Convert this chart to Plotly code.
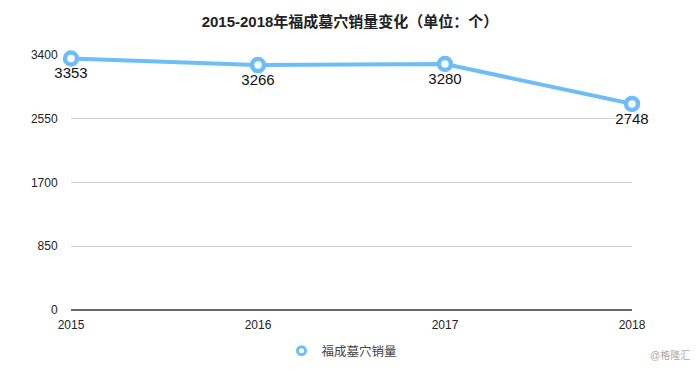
import plotly.graph_objects as go

years = [2015, 2016, 2017, 2018]
sales = [3353, 3266, 3280, 2748]
y_ticks = [0, 850, 1700, 2550, 3400]
series_name = "福成墓穴销量"
title = "2015-2018年福成墓穴销量变化（单位：个）"

font_family = "Helvetica, Arial, 'Liberation Sans', 'Noto Sans CJK SC', sans-serif"
blue = "#6DBEF5"
# page body has an 8px margin, so the figure is a little smaller than the window
W, H = 692, 363

fig = go.Figure()
fig.add_trace(go.Scatter(
    x=years, y=sales, name=series_name, showlegend=False,
    mode="lines+markers+text",
    text=[str(v) for v in sales],
    textposition="bottom center",
    textfont=dict(size=15, color="#111111"),
    line=dict(color=blue, width=4),
    marker=dict(symbol="circle", size=12, color="white",
                line=dict(color=blue, width=4.5)),
    cliponaxis=False,
))
# legend-only entry (marker only, like the reference)
fig.add_trace(go.Scatter(
    x=[None], y=[None], name=series_name, mode="markers",
    marker=dict(symbol="circle", size=8, color="white",
                line=dict(color=blue, width=3)),
))

fig.update_layout(
    width=W, height=H,
    paper_bgcolor="white", plot_bgcolor="white",
    margin=dict(l=63, r=68, t=47, b=61, autoexpand=False),
    font=dict(family=font_family, color="#222222"),
    title=dict(text="<b>" + title + "</b>", x=(350 - 8) / W, xanchor="center",
               y=1 - 14 / H, yref="container", yanchor="middle",
               font=dict(size=15, color="#222222")),
    showlegend=True,
    legend=dict(orientation="h", x=(342 - 8) / W, xanchor="center", xref="container",
                y=5 / H, yref="container", yanchor="bottom",
                font=dict(size=12.5, color="#444444"),
                itemwidth=30),
    xaxis=dict(range=[2015, 2018], tickvals=years, ticktext=[str(y) for y in years],
               showgrid=False, zeroline=False, showline=False, automargin=False,
               tickfont=dict(size=12, color="#222222"),
               ticks="outside", ticklen=4, tickcolor="rgba(0,0,0,0)"),
    yaxis=dict(range=[0, 3400], tickvals=y_ticks, ticktext=[str(t) for t in y_ticks],
               showgrid=True, gridcolor="#D0D0D0", gridwidth=1, automargin=False,
               zeroline=True, zerolinecolor="#666666", zerolinewidth=1.5,
               showline=False, tickfont=dict(size=12, color="#222222"),
               ticks="outside", ticklen=10, tickcolor="rgba(0,0,0,0)"),
    annotations=[dict(text="@格隆汇", x=1, xref="paper", xanchor="right",
                      y=0, yref="paper", yanchor="bottom",
                      xshift=60, yshift=-53, showarrow=False,
                      font=dict(size=10, color="#AAAAAA"))],
)

fig.write_html("out.html")
